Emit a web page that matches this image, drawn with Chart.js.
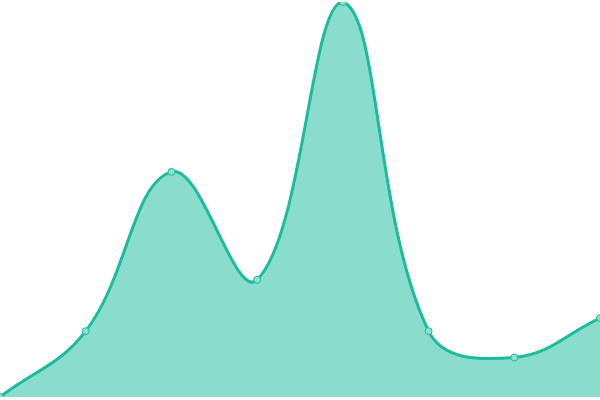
<!DOCTYPE html>
<html>
<head>
<meta charset="utf-8">
<script src="https://cdn.jsdelivr.net/npm/chart.js@4"></script>
<style>
  html, body { margin: 0; padding: 0; background: #fff; }
  #wrap { width: 600px; height: 400px; }
</style>
</head>
<body>
<div id="wrap"><canvas id="areaChart"></canvas></div>
<script>
// dados do gráfico
const labels = ['1', '2', '3', '4', '5', '6', '7', '8'];
const values = [0, 10, 34.2, 17.8, 60, 10, 6, 12];
const yMin = 0;
const yMax = 60;

document.addEventListener('DOMContentLoaded', function() {
    const ctx = document.getElementById('areaChart');
    new Chart(ctx, {
        type: 'line',
        data: {
            labels: labels,
            datasets: [{
                data: values,
                borderColor: '#1abc9c', borderWidth: 3,
                backgroundColor: 'rgba(26, 188, 156, 0.51)',
                fill: true, tension: 0.4,
                pointRadius: 3.5, pointBorderWidth: 1,
                pointBackgroundColor: '#8ce0cf', pointBorderColor: '#1abc9c'
            }]
        },
        options: {
            responsive: true, maintainAspectRatio: false, animation: false,
            layout: { autoPadding: false, padding: { top: 2, bottom: 3, left: 0, right: 0 } },
            plugins: { legend: { display: false }, tooltip: { enabled: false } },
            scales: {
                x: { display: false, offset: false },
                y: { display: false, min: yMin, max: yMax }
            }
        }
    });
});
</script>
</body>
</html>
